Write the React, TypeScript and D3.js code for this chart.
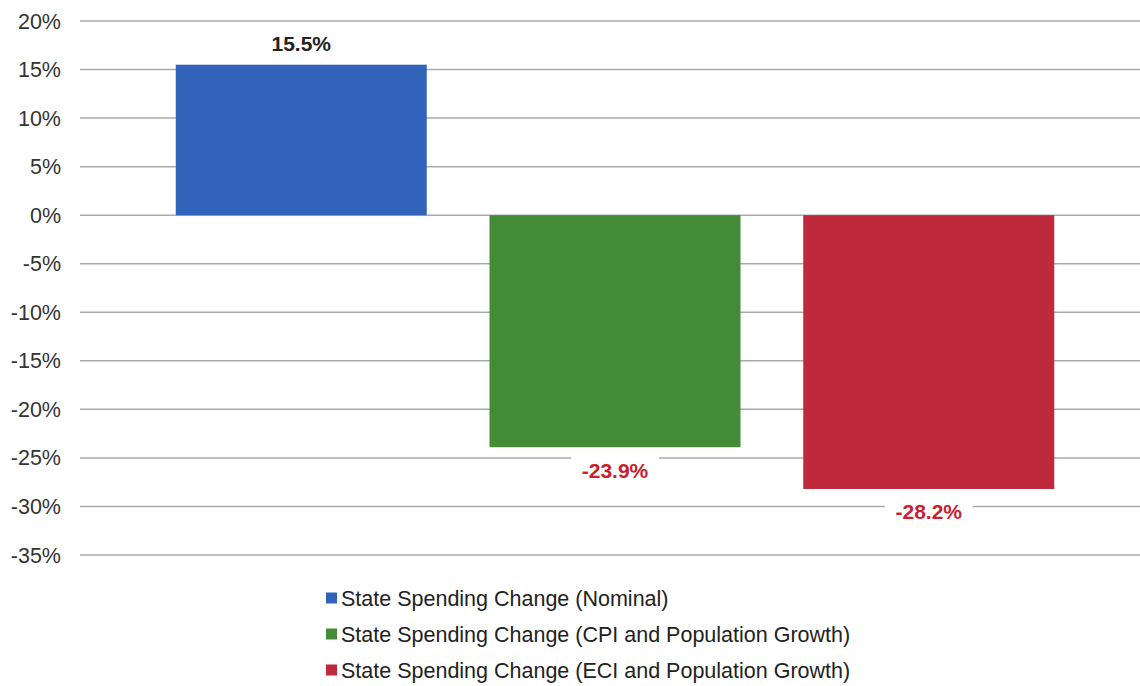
import React, { useEffect, useRef } from "react";
import * as d3 from "d3";

const categories = [
  "State Spending Change (Nominal)",
  "State Spending Change (CPI and Population Growth)",
  "State Spending Change (ECI and Population Growth)",
];
const values = [15.5, -23.9, -28.2];
const colors = ["#3063b9", "#438b37", "#be2a3b"];
const labelColors = ["#222222", "#c8202e", "#c8202e"];
const yTicks = [20, 15, 10, 5, 0, -5, -10, -15, -20, -25, -30, -35];

const W = 1140;
const H = 686;

export default function App() {
  const ref = useRef<SVGSVGElement>(null);

  useEffect(() => {
    document.body.style.margin = "0";
    const svg = d3.select(ref.current);
    svg.selectAll("*").remove();

    const font = "Liberation Sans, Arial, sans-serif";

    const y = d3.scaleLinear().domain([-35, 20]).range([555, 21]);
    const x = d3
      .scaleBand<string>()
      .domain(categories)
      .range([113, 1117])
      .paddingInner(0.2)
      .paddingOuter(0.2);

    svg.append("rect").attr("width", W).attr("height", H).attr("fill", "#fff");

    // gridlines
    svg
      .append("g")
      .selectAll("line")
      .data(yTicks)
      .enter()
      .append("line")
      .attr("x1", 80)
      .attr("x2", W)
      .attr("y1", (d) => y(d))
      .attr("y2", (d) => y(d))
      .attr("stroke", "#a7abab")
      .attr("stroke-width", 1.5);

    // tick labels
    svg
      .append("g")
      .selectAll("text")
      .data(yTicks)
      .enter()
      .append("text")
      .attr("x", 61)
      .attr("y", (d) => y(d))
      .attr("dy", "0.35em")
      .attr("text-anchor", "end")
      .attr("font-family", font)
      .attr("font-size", 21.5)
      .attr("fill", "#333")
      .text((d) => `${d}%`);

    // bars
    svg
      .append("g")
      .selectAll("rect")
      .data(values)
      .enter()
      .append("rect")
      .attr("x", (d, i) => x(categories[i]) as number)
      .attr("width", x.bandwidth())
      .attr("y", (d) => y(Math.max(0, d)))
      .attr("height", (d) => Math.abs(y(d) - y(0)))
      .attr("fill", (d, i) => colors[i]);

    // value labels
    const lab = svg
      .append("g")
      .selectAll("g")
      .data(values)
      .enter()
      .append("g")
      .attr("transform", (d, i) => {
        const cx = (x(categories[i]) as number) + x.bandwidth() / 2;
        const cy = d >= 0 ? y(d) - 21 : y(d) + 23;
        return `translate(${cx},${cy})`;
      });

    lab
      .append("rect")
      .attr("x", -44)
      .attr("y", -15)
      .attr("width", 88)
      .attr("height", 30)
      .attr("fill", "#fff");

    lab
      .append("text")
      .attr("text-anchor", "middle")
      .attr("dy", "0.35em")
      .attr("font-family", font)
      .attr("font-size", 21)
      .attr("font-weight", "bold")
      .attr("fill", (d, i) => labelColors[i])
      .text((d) => `${d.toFixed(1)}%`);

    // legend
    const leg = svg
      .append("g")
      .selectAll("g")
      .data(categories)
      .enter()
      .append("g")
      .attr("transform", (d, i) => `translate(326,${598 + i * 36})`);

    leg
      .append("rect")
      .attr("x", 0)
      .attr("y", -5.5)
      .attr("width", 11)
      .attr("height", 11)
      .attr("fill", (d, i) => colors[i]);

    leg
      .append("text")
      .attr("x", 15)
      .attr("dy", "0.35em")
      .attr("font-family", font)
      .attr("font-size", 21.5)
      .attr("fill", "#222")
      .text((d) => d);
  }, []);

  return (
    <svg
      ref={ref}
      width={W}
      height={H}
      style={{ position: "absolute", left: 0, top: 0 }}
    />
  );
}
